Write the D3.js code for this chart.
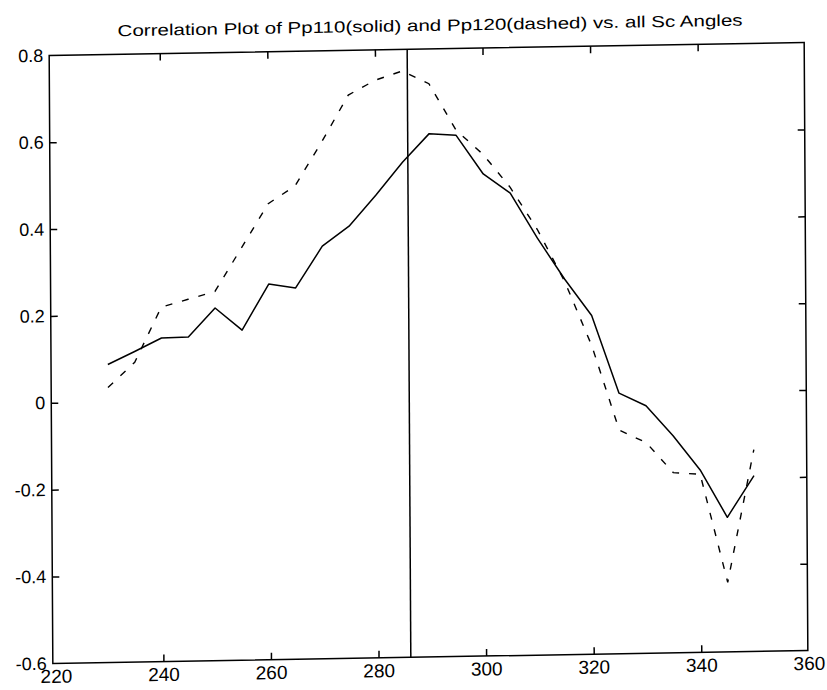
<!DOCTYPE html>
<html>
<head>
<meta charset="utf-8">
<script src="https://cdn.jsdelivr.net/npm/d3@7"></script>
<style>
  body { margin: 0; background: #fff; }
  svg { display: block; font-family: "Liberation Sans", Arial, Helvetica, sans-serif; }
  .axis path, .axis line { stroke: #000; stroke-width: 1.5; }
  .axis text { fill: #000; }
</style>
</head>
<body>
<svg id="chart" width="827" height="690"></svg>
<script>
// angles (deg) and correlation values
const angles = [230, 235, 240, 245, 250, 255, 260, 265, 270, 275, 280, 285, 290,
                295, 300, 305, 310, 315, 320, 325, 330, 335, 340, 345, 350];
const pp110 = [0.086, 0.115, 0.145, 0.146, 0.212, 0.160, 0.265, 0.255, 0.350, 0.395, 0.465, 0.540, 0.605,
               0.600, 0.510, 0.465, 0.360, 0.265, 0.180, 0.000, -0.030, -0.100, -0.180, -0.290, -0.195];
const pp120 = [0.033, 0.090, 0.216, 0.233, 0.250, 0.350, 0.450, 0.490, 0.590, 0.697, 0.730, 0.750, 0.720,
               0.612, 0.555, 0.478, 0.380, 0.260, 0.110, -0.085, -0.115, -0.185, -0.190, -0.440, -0.135];
const markerAngle = 286;

const xTicks = [220, 240, 260, 280, 300, 320, 340, 360];
const yTicks = [-0.6, -0.4, -0.2, 0, 0.2, 0.4, 0.6, 0.8];
const yTickLabels = ["-0.6", "-0.4", "-0.2", "0", "0.2", "0.4", "0.6", "0.8"];

const title = "Correlation Plot of Pp110(solid) and Pp120(dashed) vs. all Sc Angles";

const svg = d3.select("#chart");
const plotLeft = 51, plotRight = 806, plotTop = 49, plotBottom = 657;

// the scanned original is slightly skewed: small shear in both directions
const cx = 427, cy = 352, shx = 0.006, shy = 0.017;
const root = svg.append("g")
  .attr("transform", `matrix(1,${-shy},${shx},1,${-shx * cy},${shy * cx})`);

const x = d3.scaleLinear().domain([220, 360]).range([54, 807]);
const y = d3.scaleLinear().domain([-0.6, 0.8]).range([plotBottom, plotTop]);

root.append("text")
  .attr("x", 432)
  .attr("y", 31)
  .attr("text-anchor", "middle")
  .attr("font-size", 16)
  .attr("textLength", 625)
  .attr("lengthAdjust", "spacingAndGlyphs")
  .text(title);

// box frame
root.append("rect")
  .attr("x", plotLeft).attr("y", plotTop)
  .attr("width", plotRight - plotLeft).attr("height", plotBottom - plotTop)
  .attr("fill", "none").attr("stroke", "#000").attr("stroke-width", 1.5);

// axes with inward ticks
const xb = root.append("g").attr("class", "axis")
  .attr("transform", `translate(0,${plotBottom})`)
  .call(d3.axisBottom(x).tickValues(xTicks).tickSizeInner(-7).tickSizeOuter(0).tickPadding(6))
  .attr("font-size", 19);

root.append("g").attr("class", "axis")
  .attr("transform", `translate(0,${plotTop})`)
  .call(d3.axisTop(x).tickValues(xTicks).tickSizeInner(-7).tickSizeOuter(0).tickFormat(""));

root.append("g").attr("class", "axis")
  .attr("transform", `translate(${plotLeft},0)`)
  .call(d3.axisLeft(y).tickValues(yTicks).tickSizeInner(-7).tickSizeOuter(0).tickPadding(6)
    .tickFormat((d, i) => yTickLabels[i]))
  .attr("font-size", 18);

root.append("g").attr("class", "axis")
  .attr("transform", `translate(${plotRight},0)`)
  .call(d3.axisRight(y).tickValues(yTicks).tickSizeInner(-7).tickSizeOuter(0).tickFormat(""));

// the frame already draws the domain lines; drop corner ticks
root.selectAll(".axis .domain").remove();
root.selectAll(".axis .tick line").filter(d => d === 220 || d === 360 || d === -0.6 || d === 0.8)
  .attr("display", "none");

// vertical marker line
root.append("line")
  .attr("x1", x(markerAngle)).attr("x2", x(markerAngle))
  .attr("y1", plotTop).attr("y2", plotBottom)
  .attr("stroke", "#000").attr("stroke-width", 1.5);

const line = (vals) => d3.line()
  .x((d, i) => x(angles[i]))
  .y(d => y(d))(vals);

root.append("path")
  .attr("d", line(pp110))
  .attr("fill", "none").attr("stroke", "#000").attr("stroke-width", 1.5)
  .attr("stroke-linejoin", "round");

root.append("path")
  .attr("d", line(pp120))
  .attr("fill", "none").attr("stroke", "#000").attr("stroke-width", 1.4)
  .attr("stroke-dasharray", "7,10");
</script>
</body>
</html>
